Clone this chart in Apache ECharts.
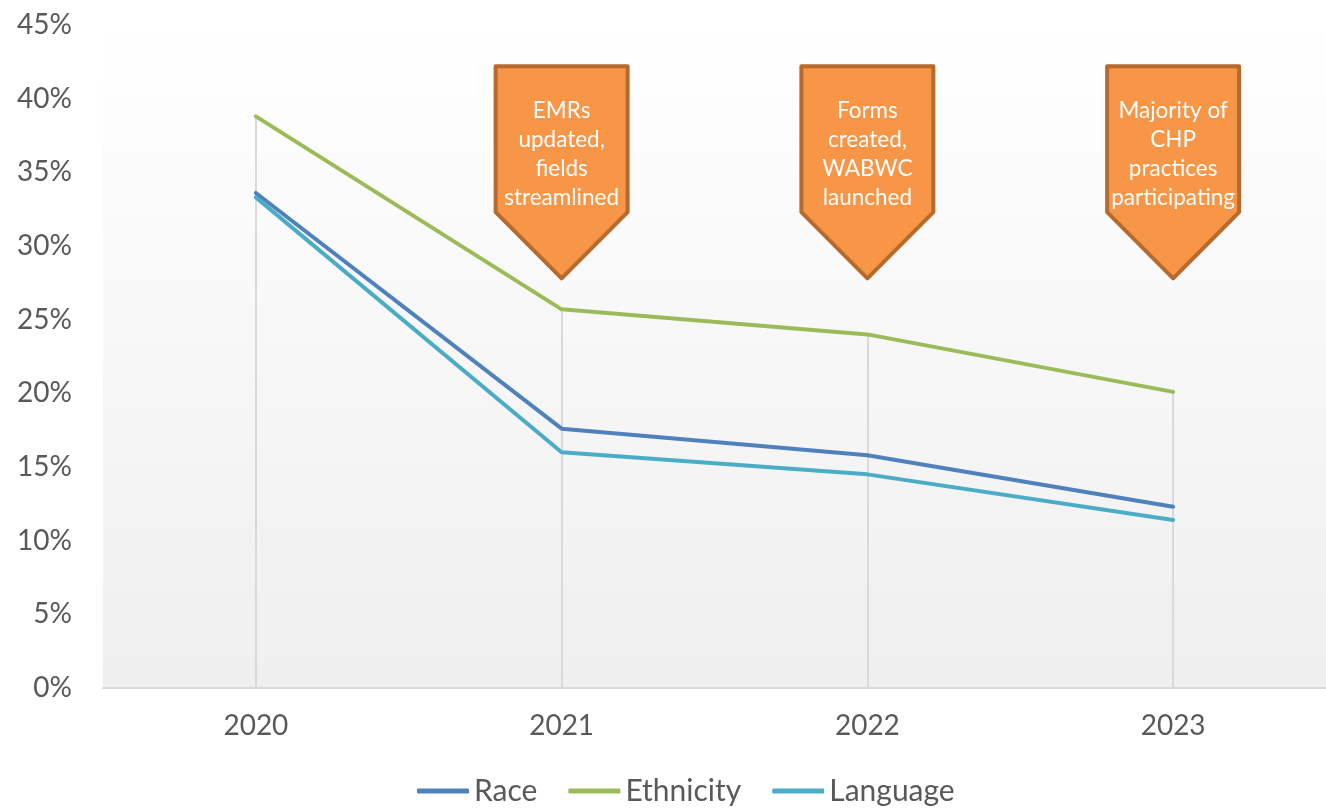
<!DOCTYPE html>
<html>
<head>
<meta charset="utf-8">
<title>Missing demographic data by year</title>
<script src="https://cdn.jsdelivr.net/npm/echarts@6/dist/echarts.min.js"></script>
<style>
  html, body { margin: 0; padding: 0; background: #ffffff; }
  #chart { width: 1326px; height: 811px; }
</style>
</head>
<body>
<div id="chart"></div>
<script>
// Years on the category axis
const years = ['2020', '2021', '2022', '2023'];

// Share of records with the field missing (%)
const race      = [33.6, 17.6, 15.8, 12.3];
const ethnicity = [38.8, 25.7, 24.0, 20.1];
const language  = [33.3, 16.0, 14.5, 11.4];

// Milestone callouts shown above the lines
const calloutYears = ['2021', '2022', '2023'];
const calloutTexts = [
  'EMRs\nupdated,\nfields\nstreamlined',
  'Forms\ncreated,\nWABWC\nlaunched',
  'Majority of\nCHP\npractices\nparticipating'
];

const FONT = 'Lato, "Open Sans", sans-serif';
const TEXT_GREY = '#595959';

const chart = echarts.init(document.getElementById('chart'), null, { renderer: 'canvas' });

// Drop lines from the highest value of each year down to the axis
const dropLines = years.map((y, i) => {
  const top = Math.max(race[i], ethnicity[i], language[i]);
  return [{ coord: [y, top] }, { coord: [y, 0] }];
});

const lineSeries = (name, data, color) => ({
  name,
  type: 'line',
  data,
  symbol: 'none',
  lineStyle: { color, width: 4, cap: 'round', join: 'round' },
  itemStyle: { color },
  z: 3,
  animation: false
});

chart.setOption({
  animation: false,
  textStyle: { fontFamily: FONT },
  grid: {
    left: 103, right: 0, top: 25, bottom: 123,
    show: true,
    borderWidth: 0,
    backgroundColor: new echarts.graphic.LinearGradient(0, 0, 0, 1, [
      { offset: 0, color: '#ffffff' },
      { offset: 1, color: '#efefef' }
    ])
  },
  legend: {
    bottom: 0,
    left: 412,
    icon: 'roundRect',
    itemWidth: 52,
    itemHeight: 5,
    itemGap: 31,
    textStyle: { fontFamily: FONT, fontSize: 30, color: TEXT_GREY },
    data: ['Race', 'Ethnicity', 'Language']
  },
  xAxis: {
    type: 'category',
    data: years,
    boundaryGap: true,
    axisLine: { lineStyle: { color: '#d9d9d9', width: 2 } },
    axisTick: { show: false },
    axisLabel: { fontFamily: FONT, fontSize: 28, color: TEXT_GREY, margin: 24 },
    splitLine: { show: false }
  },
  yAxis: {
    type: 'value',
    min: 0, max: 45, interval: 5,
    axisLine: { show: false },
    axisTick: { show: false },
    splitLine: { show: false },
    axisLabel: {
      fontFamily: FONT, fontSize: 28, color: TEXT_GREY, margin: 31,
      formatter: v => v + '%'
    }
  },
  series: [
    lineSeries('Race', race, '#4f81bd'),
    Object.assign(lineSeries('Ethnicity', ethnicity, '#9bbb59'), {
      markLine: {
        silent: true,
        symbol: 'none',
        label: { show: false },
        lineStyle: { color: '#d9d9d9', width: 2, type: 'solid' },
        data: dropLines,
        z: 1
      }
    }),
    lineSeries('Language', language, '#4bacc6')
  ]
});

// Down-arrow callouts placed through the axis scales
function drawCallouts() {
  const half = 66;
  const elements = calloutYears.map((yr, i) => {
    const cx = chart.convertToPixel({ xAxisIndex: 0 }, yr);
    const yTop = chart.convertToPixel({ yAxisIndex: 0 }, 42.2);
    const yBody = chart.convertToPixel({ yAxisIndex: 0 }, 32.3);
    const yTip = chart.convertToPixel({ yAxisIndex: 0 }, 27.8);
    const yText = chart.convertToPixel({ yAxisIndex: 0 }, 36.2);
    return {
      type: 'group',
      children: [
        {
          type: 'polygon',
          shape: {
            points: [
              [cx - half, yTop], [cx + half, yTop], [cx + half, yBody],
              [cx, yTip], [cx - half, yBody]
            ]
          },
          style: { fill: '#f79646', stroke: '#b66a2e', lineWidth: 4, lineJoin: 'round' },
          z: 10
        },
        {
          type: 'text',
          x: cx,
          y: yText,
          style: {
            text: calloutTexts[i],
            fill: '#ffffff',
            font: '22.5px ' + FONT,
            lineHeight: 29,
            align: 'center',
            verticalAlign: 'middle'
          },
          z: 11
        }
      ]
    };
  });
  chart.setOption({ graphic: { elements } });
}
drawCallouts();
</script>
</body>
</html>
